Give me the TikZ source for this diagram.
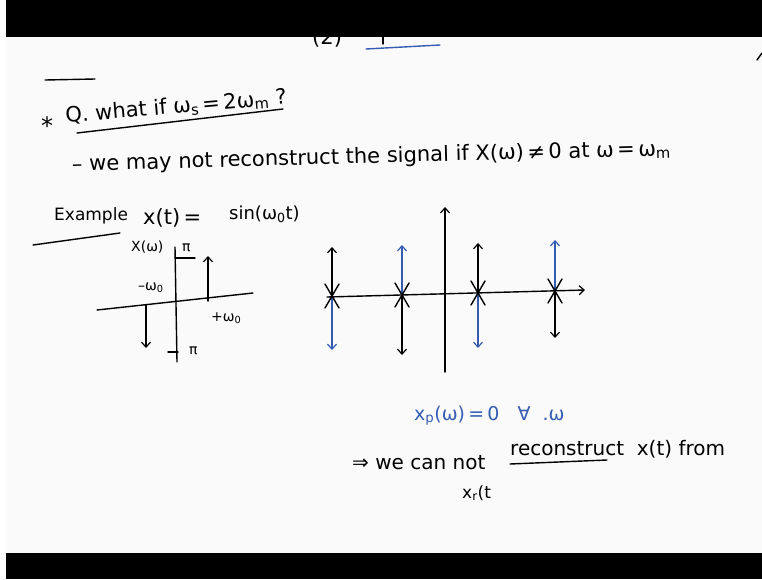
\documentclass[tikz,border=0pt]{standalone}
\usepackage{fontspec}
\setmainfont{DejaVu Sans}
\usetikzlibrary{arrows.meta}
\definecolor{inkblue}{RGB}{52,92,178}
\definecolor{paper}{RGB}{250,250,250}
\tikzset{
  hw/.style={inner sep=0pt, anchor=base west, font=\fontsize{21}{24}\selectfont},
  hwm/.style={inner sep=0pt, anchor=base west, font=\fontsize{19}{22}\selectfont},
  hws/.style={inner sep=0pt, anchor=base west, font=\fontsize{14}{16}\selectfont},
  ink/.style={line width=1.4pt, black, line cap=round, line join=round},
  bink/.style={ink, draw=inkblue},
  tip/.style={-{Straight Barb[length=5pt,width=9pt,line width=1.2pt]}},
}
\begin{document}
\begin{tikzpicture}[x=1pt,y=-1pt]
\useasboundingbox (0,0) rectangle (762,579);
\fill[white] (0,0) rectangle (762,579);
\fill[paper] (6,37) rectangle (762,553);

% top partial content
\node[hw] (two) at (312,44) {(2)};
\coordinate (tk1) at (383,36); \coordinate (tk2) at (383,44);
\draw[ink] (tk1) -- (tk2);
\coordinate (bu1) at (366,49); \coordinate (bu2) at (440,45);
\draw[bink] (bu1) -- (bu2);
\coordinate (rm1) at (762,53); \coordinate (rm2) at (757,60);
\draw[ink] (rm1) -- (rm2);

% question
\coordinate (ov1) at (45,80); \coordinate (ov2) at (95,79);
\draw[ink] (ov1) -- (ov2);
\node[hw, font=\fontsize{24}{26}\selectfont] (star) at (41,134) {*};
\node[hw, rotate=5] (q) at (66,123) {Q. what if ω\textsubscript{s}\,=\,2ω\textsubscript{m} ?};
\coordinate (qu1) at (77,133); \coordinate (qu2) at (283,109);
\draw[ink] (qu1) -- (qu2);

\node[hw, rotate=1.5] (l2) at (72,171) {– we may not reconstruct the signal if X(ω)\,≠\,0 at ω\,=\,ω\textsubscript{m}};

% example
\node[hwm, font=\fontsize{17}{20}\selectfont] (ex) at (54,220) {Example};
\coordinate (eu1) at (33,245); \coordinate (eu2) at (120,233);
\draw[ink] (eu1) -- (eu2);
\node[hw] (xt) at (143,224) {x(t)\,=};
\node[hwm, font=\fontsize{18}{20}\selectfont] (sin) at (229,219) {sin(ω\textsubscript{0}t)};

% small spectrum
\coordinate (va1) at (175,247); \coordinate (va2) at (177,362);
\draw[ink] (va1) -- (va2);
\coordinate (ha1) at (97,310); \coordinate (ha2) at (253,293);
\draw[ink] (ha1) -- (ha2);
\node[hws] (Xw) at (131,251) {X(ω)};
\node[hws] (pi1) at (182,251) {π};
\coordinate (lv1) at (175,258); \coordinate (lv2) at (195,258);
\draw[ink] (lv1) -- (lv2);
\coordinate (up0) at (208,301); \coordinate (up1) at (208,256);
\draw[ink,tip] (up0) -- (up1);
\coordinate (dn0) at (146,305); \coordinate (dn1) at (146,348);
\draw[ink,tip] (dn0) -- (dn1);
\node[hws] (mw) at (138,290) {–ω\textsubscript{0}};
\node[hws] (pw) at (211,321) {+ω\textsubscript{0}};
\coordinate (nt1) at (168,352); \coordinate (nt2) at (178,352);
\draw[ink] (nt1) -- (nt2);
\node[hws] (pi2) at (189,354) {π};

% sampled spectrum
\coordinate (cv1) at (445,372); \coordinate (cv2) at (445,207);
\draw[ink,tip] (cv1) -- (cv2);
\coordinate (ax1) at (327,297); \coordinate (ax2) at (585,290);
\draw[ink,tip] (ax1) -- (ax2);

\foreach \n/\x/\y/\u/\d/\uc/\dc in {a/332/296/247/350/black/inkblue,
                                    b/402/295/245/355/inkblue/black,
                                    c/478/293/243/348/black/inkblue,
                                    d/555/291/240/338/inkblue/black}{
  \coordinate (\n0) at (\x,\y);
  \coordinate (\n u) at (\x,\u);
  \coordinate (\n d) at (\x,\d);
  \draw[ink,tip,draw=\uc] (\n0) -- (\n u);
  \draw[ink,tip,draw=\dc] (\n0) -- (\n d);
  \draw[ink] ([shift={(-7,-12)}]\n0) -- ([shift={(7,12)}]\n0);
  \draw[ink] ([shift={(-7,12)}]\n0) -- ([shift={(7,-12)}]\n0);
}

% conclusion
\node[hwm, text=inkblue] (xp) at (414,420) {x\textsubscript{p}(ω)\,=\,0 \ \ ∀ \ .ω};
\node[hwm, font=\fontsize{20}{22}\selectfont] (imp) at (352,469) {⇒ we can not};
\node[hwm, font=\fontsize{20}{22}\selectfont] (rec) at (510,455) {reconstruct \ x(t) from};
\coordinate (ru1) at (510,464); \coordinate (ru2) at (607,460);
\draw[ink] (ru1) -- (ru2);
\node[hwm, font=\fontsize{17}{20}\selectfont] (xr) at (462,498) {x\textsubscript{r}(t};

% black bands
\fill[black] (6,0) rectangle (762,37);
\fill[black] (6,553) rectangle (762,579);
\end{tikzpicture}
\end{document}
